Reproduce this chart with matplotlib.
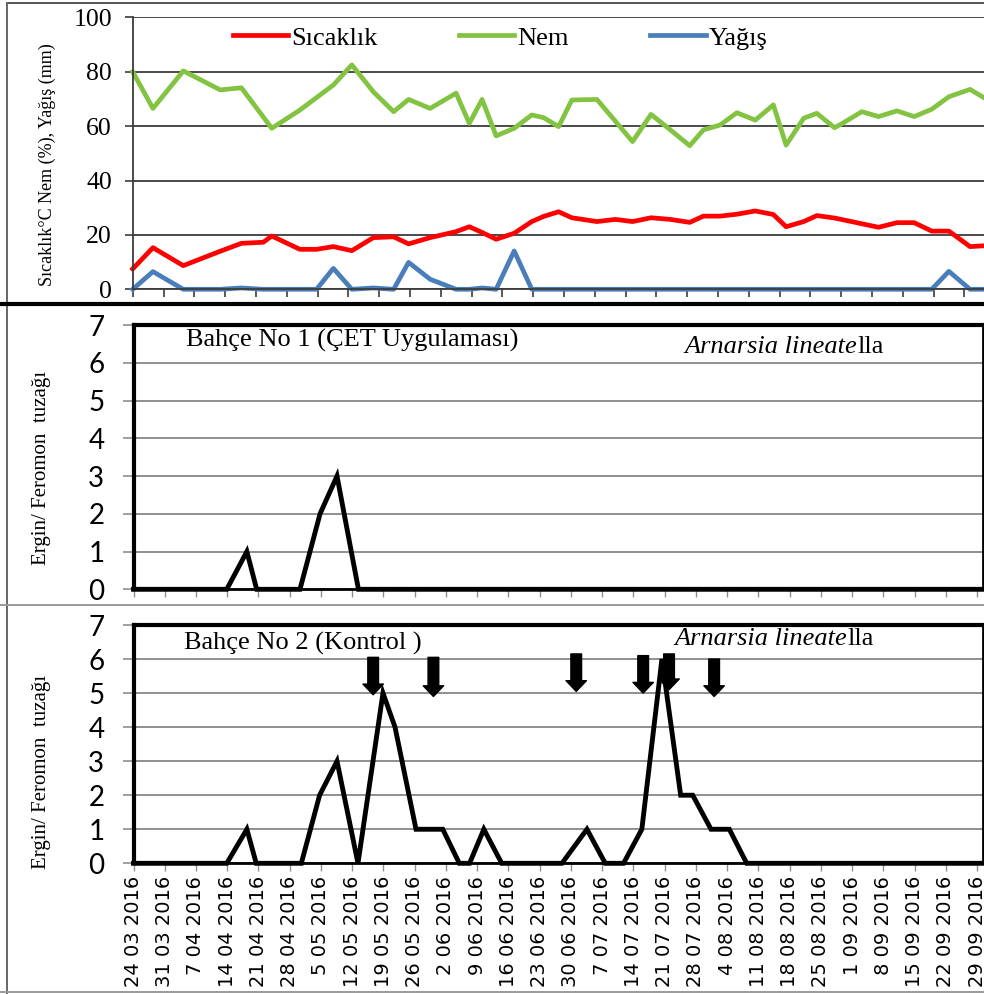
import matplotlib
matplotlib.use('Agg')
import matplotlib.pyplot as plt
from matplotlib.lines import Line2D

# ---------------- data ----------------
tick_days = [0, 7, 14, 21, 28, 35, 42, 49, 56, 63, 70, 77, 84, 91, 98, 105, 112,
             119, 126, 133, 140, 147, 154, 161, 168, 175, 182, 189]
tick_labels = ['24 03 2016', '31 03 2016', '7 04 2016', '14 04 2016', '21 04 2016',
               '28 04 2016', '5 05 2016', '12 05 2016', '19 05 2016', '26 05 2016',
               '2 06 2016', '9 06 2016', '16 06 2016', '23 06 2016', '30 06 2016',
               '7 07 2016', '14 07 2016', '21 07 2016', '28 07 2016', '4 08 2016',
               '11 08 2016', '18 08 2016', '25 08 2016', '1 09 2016', '8 09 2016',
               '15 09 2016', '22 09 2016', '29 09 2016']

weather_days = [0, 4.6, 11.5, 19.9, 24.7, 29.7, 31.6, 38.0, 41.8, 45.6, 49.8, 54.7,
                59.3, 62.7, 67.6, 73.5, 76.5, 79.4, 82.6, 86.7, 90.7, 93.4, 96.8, 99.8,
                105.5, 109.7, 113.6, 117.8, 122.2, 126.6, 129.7, 133.5, 137.3, 141.5,
                145.6, 148.5, 152.5, 155.5, 159.5, 161.6, 165.7, 169.5, 173.7, 177.6,
                181.6, 185.5, 190.3, 193.5]
sicaklik = [7.5, 15.3, 8.7, 14, 16.9, 17.3, 19.6, 14.7, 14.7, 15.7, 14.2, 19,
            19.3, 16.7, 19, 21.2, 23, 20.9, 18.4, 20.6, 24.9, 26.8, 28.5, 26.3,
            24.9, 25.7, 24.9, 26.3, 25.7, 24.6, 26.9, 26.9, 27.6, 28.8, 27.5, 23,
            24.9, 27.1, 26.2, 25.5, 24.1, 22.8, 24.5, 24.5, 21.4, 21.4, 15.7, 16]
nem = [80, 66.5, 80.3, 73.3, 74.1, 63.3, 59.2, 65.9, 70.5, 75.1, 82.5, 72.6,
       65.3, 69.8, 66.5, 72.1, 61, 69.8, 56.4, 59.2, 64.1, 63.1, 59.8, 69.6,
       69.8, 61.8, 54.3, 64.3, 58.6, 52.8, 58.6, 60.4, 64.9, 62.2, 67.8, 53,
       62.9, 64.7, 59.4, 61.3, 65.3, 63.5, 65.6, 63.5, 66.2, 70.8, 73.5, 70.4]
yagis = [0, 6.5, 0, 0, 0.5, 0, 0, 0, 0, 7.7, 0, 0.5,
         0, 9.9, 3.7, 0, 0, 0.5, 0, 14.1, 0, 0, 0, 0,
         0, 0, 0, 0, 0, 0, 0, 0, 0, 0, 0, 0,
         0, 0, 0, 0, 0, 0, 0, 0, 0, 6.6, 0, 0]

bahce1_days = [0, 20.9, 25.4, 27.6, 37.3, 41.8, 45.6, 50.4, 190.3]
bahce1_counts = [0, 0, 1, 0, 0, 2, 3, 0, 0]

bahce2_days = [0, 20.9, 25.4, 27.5, 37.6, 41.7, 45.6, 50.3, 55.9, 58.6, 63.3, 69.3,
               73.0, 75.3, 78.5, 82.5, 96.0, 101.6, 105.7, 109.8, 113.9, 118.4,
               122.6, 125.3, 129.4, 133.5, 137.4, 190.3]
bahce2_counts = [0, 0, 1, 0, 0, 2, 3, 0, 5, 4, 1, 1,
                 0, 0, 1, 0, 0, 1, 0, 0, 1, 6,
                 2, 2, 1, 1, 0, 0]

arrow_days = [53.7, 67.2, 99.2, 114.2, 120.0, 130.1]
arrow_top = [6.05, 6.05, 6.15, 6.1, 6.15, 6.0]
arrow_tip = [4.95, 4.9, 5.05, 5.0, 5.1, 4.9]

# ---------------- figure ----------------
W, H = 984, 994
DPI = 100
fig = plt.figure(figsize=(W / DPI, H / DPI), dpi=DPI)
SERIF = 'Liberation Serif'


def px_rect(left, top, right, bottom):
    return [left / W, 1 - bottom / H, (right - left) / W, (bottom - top) / H]


def fig_line(x0, y0, x1, y1, **kw):
    fig.add_artist(Line2D([x0 / W, x1 / W], [1 - y0 / H, 1 - y1 / H],
                          transform=fig.transFigure, **kw))


# panel frames
fig_line(7, 3, 984, 3, color='#555555', lw=1.4)
fig_line(7, 3, 7, 993, color='#666666', lw=1.4)
fig_line(0, 304, 984, 304, color='black', lw=3.0)
fig_line(0, 605, 984, 605, color='#9a9a9a', lw=1.4)
fig_line(0, 992, 984, 992, color='#9a9a9a', lw=1.4)

# ---------------- top panel ----------------
ax0 = fig.add_axes(px_rect(132.7, 17.3, 984, 289.3))
ax0.plot(weather_days, sicaklik, color='#FF0000', lw=3.4, label='Sıcaklık', clip_on=False)
ax0.plot(weather_days, nem, color='#82C341', lw=3.4, label='Nem', clip_on=False)
ax0.plot(weather_days, yagis, color='#4A7EBB', lw=3.4, label='Yağış', clip_on=False)
ax0.set_xlim(0, (984 - 132.7) / 4.40)
ax0.set_ylim(0, 100)
ax0.set_yticks([0, 20, 40, 60, 80, 100])
ax0.set_xticks(tick_days)
ax0.set_xticklabels([])
ax0.yaxis.grid(True, color='#3c3c3c', lw=1.3)
ax0.set_axisbelow(True)
for s in ['top', 'right']:
    ax0.spines[s].set_visible(False)
for s in ['left', 'bottom']:
    ax0.spines[s].set_color('#3c3c3c')
    ax0.spines[s].set_linewidth(1.3)
ax0.tick_params(axis='both', direction='out', length=6, width=1.2, color='#3c3c3c')
ax0.tick_params(axis='y', pad=9, labelsize=18.5)
for lab in ax0.get_yticklabels():
    lab.set_family(SERIF)
leg = ax0.legend(loc='center', bbox_to_anchor=(500 / W, 1 - 38 / H),
                 bbox_transform=fig.transFigure, ncol=3, frameon=False,
                 prop={'family': SERIF, 'size': 19}, handlelength=2.1,
                 handletextpad=0.1, columnspacing=3.1)
fig.text(47.5 / W, 1 - 165 / H, 'Sıcaklık°C Nem (%), Yağış (mm)', rotation=90,
         ha='center', va='center', family=SERIF, size=13)

# ---------------- trap panels ----------------
XMAX_B = (982.5 - 133.5) / 4.463


def style_trap(ax):
    ax.set_xlim(0, XMAX_B)
    ax.set_ylim(0, 7)
    ax.set_yticks(range(8))
    ax.set_xticks(tick_days)
    ax.yaxis.grid(True, color='#8f8f8f', lw=1.4)
    ax.set_axisbelow(True)
    for s in ['left', 'top']:
        ax.spines[s].set_linewidth(3.0)
        ax.spines[s].set_color('black')
    ax.spines['right'].set_linewidth(2.0)
    ax.spines['bottom'].set_linewidth(2.0)
    ax.tick_params(axis='y', direction='out', length=8, width=1.2, color='#8f8f8f',
                   pad=13, labelsize=20)
    ax.tick_params(axis='x', direction='out', length=6, width=1.0, color='#8f8f8f')
    for lab in ax.get_yticklabels():
        lab.set_family('Lato')


def species_label(ax, x, y):
    t = ax.text(x, y, 'Arnarsia lineate', style='italic', family=SERIF, size=19,
                transform=ax.transAxes, va='baseline', ha='left')
    ax.annotate('lla', xy=(1, 0), xycoords=t, va='bottom', ha='left',
                family=SERIF, size=19)


ax1 = fig.add_axes(px_rect(133.5, 325, 982.5, 589.3))
ax1.plot(bahce1_days, bahce1_counts, color='black', lw=3.5, clip_on=False,
         solid_joinstyle='miter')
style_trap(ax1)
ax1.set_xticklabels([])
ax1.text(0.0624, 0.917, 'Bahçe No 1 (ÇET Uygulaması)', transform=ax1.transAxes,
         family=SERIF, size=19, va='baseline', ha='left')
species_label(ax1, 0.649, 0.893)
fig.text(42 / W, 1 - 468 / H, 'Ergin/ Feromon  tuzağı', rotation=90,
         ha='center', va='center', family=SERIF, size=15)

ax2 = fig.add_axes(px_rect(133.5, 625, 982.5, 863.3))
ax2.plot(bahce2_days, bahce2_counts, color='black', lw=3.5, clip_on=False,
         solid_joinstyle='miter')
style_trap(ax2)
ax2.set_xticklabels(tick_labels, rotation=90, family='DejaVu Sans', fontsize=14)
ax2.tick_params(axis='x', pad=3)
ax2.text(0.060, 0.895, 'Bahçe No 2 (Kontrol )', transform=ax2.transAxes,
         family=SERIF, size=19, va='baseline', ha='left')
species_label(ax2, 0.637, 0.916)
for xd, yt, yb in zip(arrow_days, arrow_top, arrow_tip):
    ax2.annotate('', xy=(xd, yb), xytext=(xd, yt),
                 arrowprops=dict(arrowstyle='simple,head_length=0.55,head_width=1.05,tail_width=0.55',
                                 color='black', shrinkA=0, shrinkB=0, mutation_scale=14))
fig.text(42 / W, 1 - 772 / H, 'Ergin/ Feromon  tuzağı', rotation=90,
         ha='center', va='center', family=SERIF, size=15)

fig.savefig('out.png', dpi=DPI)
